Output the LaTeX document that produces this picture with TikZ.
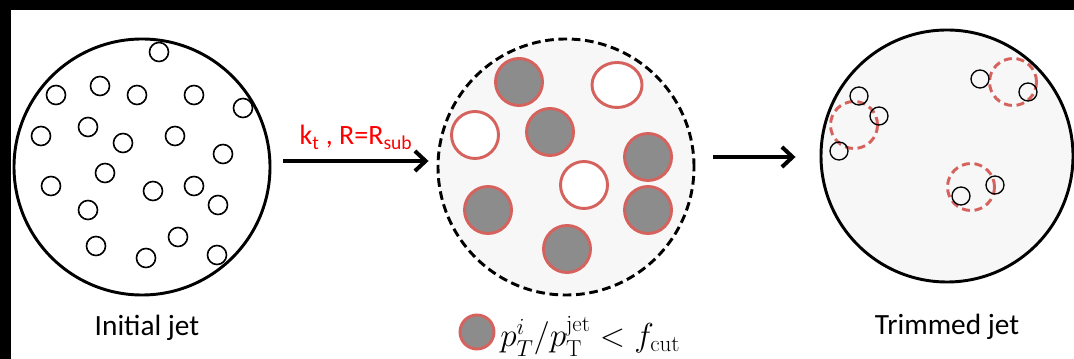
\documentclass[tikz,border=0pt]{standalone}
\usepackage[no-math]{fontspec}
\setmainfont{Carlito}
\usepackage{amsmath}
\usetikzlibrary{arrows.meta}

\definecolor{subred}{RGB}{214,98,94}
\definecolor{subgray}{RGB}{140,140,140}
\definecolor{jetfill}{RGB}{247,247,247}

\begin{document}
\begin{tikzpicture}[x=0.75pt, y=-0.75pt]
\tikzstyle{jet}=[circle, draw, line width=2.2pt, inner sep=0pt]
\tikzstyle{part}=[draw, line width=1.2pt]
\tikzstyle{subjet}=[draw=subred, line width=2.2pt]
\tikzstyle{lbl}=[anchor=base, inner sep=0pt, font=\fontsize{22}{26}\selectfont]
\tikzstyle{arr}=[-{Straight Barb[length=8pt, width=15pt]}, line width=3pt]
% frame
\useasboundingbox (0,0) rectangle (1074,359);
\fill[black] (0,0) rectangle (1074,359);
\fill[white] (11,10) rectangle (1074,359);
% jets
\node[jet, minimum size=192pt, fill=white] (ini) at (142,167) {};
\node[jet, minimum size=192pt, fill=jetfill, dash pattern=on 6.5pt off 3.5pt] (sub) at (566,167) {};
\node[jet, minimum size=189pt, fill=jetfill] (trim) at (947,156) {};
% constituents of the initial jet
\foreach \x/\y in {159/52, 56/95, 100/86, 137/95, 194/95, 243/108, 41/136, 88/127,
  123/143, 175/136, 223/154, 105/173, 51/186, 153/191, 194/186, 218/205,
  88/210, 178/237, 96/246, 146/258, 217/255}
  \draw[part] (\x,\y) circle (9.5);
% subjets
\foreach \x/\y in {519/82, 550/132, 648/157, 488/210, 648/210, 567/249}
  \draw[subjet, fill=subgray] (\x,\y) circle (23.5);
\draw[subjet, fill=white] (617,85) ellipse (25 and 22.5);
\foreach \x/\y in {475/135, 584/185}
  \draw[subjet, fill=white] (\x,\y) circle (23.5);
% kept subjets
\foreach \x/\y in {1013/82, 854/125, 971/187}
  \draw[subjet, dash pattern=on 6pt off 3.5pt] (\x,\y) circle (23.5);
\foreach \x/\y in {980/79, 1028/92, 859/96, 879/116, 839/151, 961/196, 995/185}
  \draw[part, line width=1pt] (\x,\y) circle (9);
% arrows
\draw[arr] ([xshift=9pt, yshift=4.5pt]ini.east) -- ([xshift=-6pt, yshift=4.5pt]sub.west)
  node[pos=0.5, above=4pt, red, font=\fontsize{21}{24}\selectfont] (alg) {k$_\text{t}$ , R=R$_\text{sub}$};
\draw[arr] ([xshift=13.5pt, yshift=7.5pt]sub.east) -- ([xshift=-18pt, yshift=-0.75pt]trim.west);
% labels
\node[lbl] (inilbl) at (147,336) {Initial jet};
\node[lbl] (trimlbl) at (947,335) {Trimmed jet};
\node[circle, fill=subgray, draw=subred, line width=2.2pt, minimum size=25.5pt, inner sep=0pt] (key) at (477,332) {};
\node[anchor=base west, inner sep=0pt, font=\fontsize{26}{30}\selectfont] (cut) at (500,347)
  {$p_T^i/p_{\mathrm{T}}^{\mathrm{jet}} < f_{\mathrm{cut}}$};
\end{tikzpicture}
\end{document}
